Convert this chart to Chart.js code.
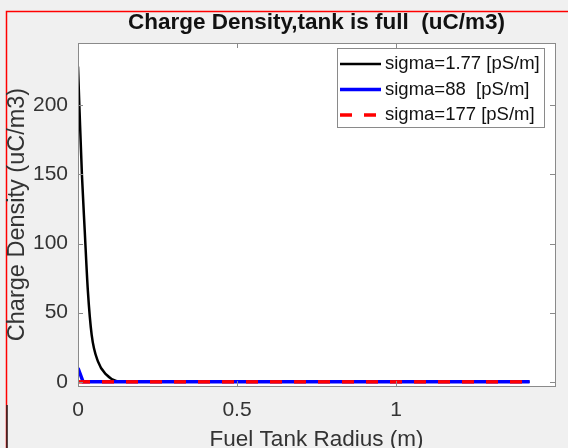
<!DOCTYPE html>
<html>
<head>
<meta charset="utf-8">
<script src="https://cdn.jsdelivr.net/npm/chart.js@4/dist/chart.umd.min.js"></script>
<style>
html,body{margin:0;padding:0;background:#f0f0f0;overflow:hidden;}
#wrap{width:568px;height:448px;position:relative;}
</style>
</head>
<body>
<div id="wrap"><canvas id="c" width="568" height="448"></canvas></div>
<script>
const chartTitle = "Charge Density,tank is full  (uC/m3)";
const xTitle = "Fuel Tank Radius (m)";
const yTitle = "Charge Density (uC/m3)";
const xTicks = [0, 0.5, 1];
const yTicks = [0, 50, 100, 150, 200];
const seriesLabels = ["sigma=1.77 [pS/m]", "sigma=88  [pS/m]", "sigma=177 [pS/m]"];

const blackX = [0, 0.005, 0.0125, 0.021, 0.031, 0.043, 0.063, 0.09, 0.12, 0.16, 1.42];
const blackY = [228, 195, 149, 110, 66, 34, 14.6, 5, 0.7, 0, 0];
const blueX = [0, 0.016, 1.42];
const blueY = [10, 0, 0];
const redX = [0, 1.42];
const redY = [0, 0];

const toPts = (xs, ys) => xs.map((x, i) => ({x: x, y: ys[i]}));
const FONT = "'Liberation Sans', Arial, Helvetica, sans-serif";

const frame = {
  id: 'frame',
  beforeDraw(chart) {
    const ctx = chart.ctx;
    ctx.save();
    ctx.fillStyle = '#f0f0f0';
    ctx.fillRect(0, 0, chart.width, chart.height);
    const a = chart.chartArea;
    ctx.fillStyle = '#ffffff';
    ctx.fillRect(a.left, a.top, a.right - a.left, a.bottom - a.top);
    ctx.strokeStyle = '#ff0000';
    ctx.lineWidth = 1.5;
    ctx.beginPath();
    ctx.moveTo(6.5, chart.height);
    ctx.lineTo(6.5, 11.5);
    ctx.lineTo(chart.width, 11.5);
    ctx.stroke();
    ctx.strokeStyle = '#222';
    ctx.beginPath();
    ctx.moveTo(7, 405);
    ctx.lineTo(7, chart.height);
    ctx.stroke();
    ctx.restore();
  },
  afterDatasetsDraw(chart) {
    const ctx = chart.ctx;
    const a = chart.chartArea;
    const xs = chart.scales.x, ys = chart.scales.y;
    ctx.save();
    ctx.strokeStyle = '#8a8a8a';
    ctx.lineWidth = 1;
    ctx.strokeRect(Math.round(a.left) + 0.5, Math.round(a.top) + 0.5, Math.round(a.right - a.left), Math.round(a.bottom - a.top));
    ctx.beginPath();
    const tl = 5;
    xTicks.forEach(v => {
      const p = Math.round(xs.getPixelForValue(v)) + 0.5;
      ctx.moveTo(p, a.bottom); ctx.lineTo(p, a.bottom - tl);
      ctx.moveTo(p, a.top); ctx.lineTo(p, a.top + tl);
    });
    yTicks.forEach(v => {
      const p = Math.round(ys.getPixelForValue(v)) + 0.5;
      ctx.moveTo(a.left, p); ctx.lineTo(a.left + tl, p);
      ctx.moveTo(a.right, p); ctx.lineTo(a.right - tl, p);
    });
    ctx.stroke();
    ctx.restore();
  },
  afterDraw(chart) {
    const ctx = chart.ctx;
    const a = chart.chartArea;
    const bx = a.right - 218, by = a.top + 5, bw = 207, bh = 79;
    ctx.save();
    ctx.fillStyle = '#fff';
    ctx.fillRect(bx, by, bw, bh);
    ctx.strokeStyle = '#8a8a8a';
    ctx.lineWidth = 1;
    ctx.strokeRect(Math.round(bx) + 0.5, Math.round(by) + 0.5, bw, bh);
    ctx.font = '18.5px ' + FONT;
    ctx.textBaseline = 'middle';
    ctx.fillStyle = '#111';
    chart.data.datasets.forEach((ds, i) => {
      const y = by + 16 + i * 25.5;
      ctx.strokeStyle = ds.borderColor;
      ctx.lineWidth = ds.borderWidth;
      ctx.setLineDash(ds.borderDash || []);
      ctx.beginPath();
      ctx.moveTo(bx + 3, y);
      ctx.lineTo(bx + 44, y);
      ctx.stroke();
      ctx.setLineDash([]);
      ctx.fillText(ds.label, bx + 48, y);
    });
    ctx.restore();
  }
};

new Chart(document.getElementById('c'), {
  type: 'line',
  data: {
    datasets: [
      {label: seriesLabels[0], data: toPts(blackX, blackY), borderColor: '#000000', borderWidth: 2.5, pointRadius: 0, cubicInterpolationMode: 'monotone', order: 2},
      {label: seriesLabels[1], data: toPts(blueX, blueY), borderColor: '#0000ff', borderWidth: 3.5, pointRadius: 0, tension: 0, order: 1},
      {label: seriesLabels[2], data: toPts(redX, redY), borderColor: '#ff0000', borderWidth: 3.5, borderDash: [12, 12], pointRadius: 0, tension: 0, order: 0}
    ]
  },
  options: {
    responsive: false,
    animation: false,
    layout: {padding: {left: 0, right: 13, top: 0, bottom: 0}},
    plugins: {
      legend: {display: false},
      tooltip: {enabled: false},
      title: {
        display: true, text: chartTitle, fullSize: false, color: '#111',
        font: {family: FONT, size: 22.5, weight: 'bold', lineHeight: 1},
        padding: {top: 12, bottom: 8.5}
      }
    },
    scales: {
      x: {
        type: 'linear', min: 0, max: 1.5,
        afterBuildTicks: s => { s.ticks = xTicks.map(v => ({value: v})); },
        afterFit: s => { s.height = 62; },
        grid: {display: false, drawTicks: false},
        border: {display: false},
        ticks: {color: '#333', font: {family: FONT, size: 21, lineHeight: 1}, padding: 14, maxRotation: 0,
          callback: v => String(v)},
        title: {display: true, text: xTitle, color: '#333', font: {family: FONT, size: 22.5, lineHeight: 1}, padding: {top: 0, bottom: -3}}
      },
      y: {
        type: 'linear', min: -3, max: 245,
        afterBuildTicks: s => { s.ticks = yTicks.map(v => ({value: v})); },
        afterFit: s => { s.width = 78; },
        grid: {display: false, drawTicks: false},
        border: {display: false},
        ticks: {color: '#333', font: {family: FONT, size: 21}, padding: 10},
        title: {display: true, text: yTitle, color: '#333', font: {family: FONT, size: 23.5, lineHeight: 1}, padding: {top: 6, bottom: 0}}
      }
    }
  },
  plugins: [frame]
});
</script>
</body>
</html>
